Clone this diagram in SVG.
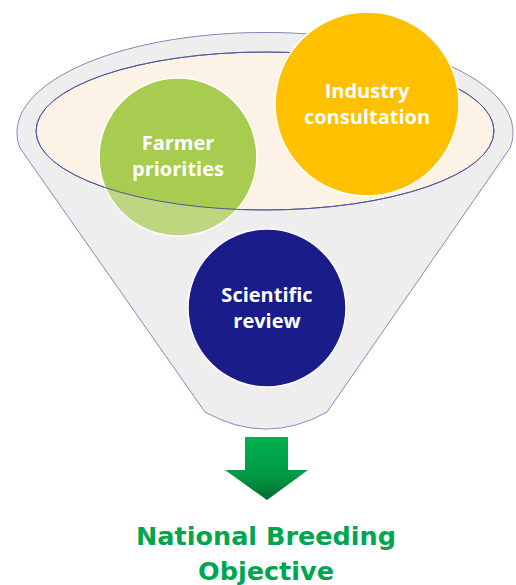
<svg xmlns="http://www.w3.org/2000/svg" width="516" height="585" viewBox="0 0 516 585">
<defs>
<style>
.lbl{font-family:"Open Sans","Noto Sans",sans-serif;font-weight:bold;font-size:20px;fill:#ffffff;text-anchor:middle}
.out{font-family:"DejaVu Sans",sans-serif;font-weight:bold;font-size:25.5px;fill:#00A64F;text-anchor:middle}
.circ{stroke:#ffffff;stroke-width:1.5}
</style>
<linearGradient id="ag" x1="0" y1="0" x2="0" y2="1">
<stop offset="0" stop-color="#00B050"/>
<stop offset="0.6" stop-color="#009A44"/>
<stop offset="1" stop-color="#006B2E"/>
</linearGradient>
</defs>
<g id="funnel">
<path d="M20,148 L205,412 Q266,446 327,412 L510,148 A248 100 0 1 0 20,148 Z" fill="#EEEEEE" stroke="#7474B4" stroke-width="1"/>
<ellipse cx="265" cy="131" rx="229" ry="79" fill="#FDF2E6" stroke="#55559A" stroke-width="1"/>
</g>
<g id="farmer">
<circle class="circ" cx="178" cy="157" r="79" fill="#A8CC4F"/>
<path d="M20,148 L205,412 Q266,446 327,412 L510,148 A248 100 0 1 0 20,148 Z M36,131 A229 79 0 1 0 494,131 A229 79 0 1 0 36,131 Z" fill="#EEEEEE" fill-opacity="0.3" fill-rule="evenodd"/>
<ellipse cx="265" cy="131" rx="229" ry="79" fill="none" stroke="#55559A" stroke-width="1"/>
<text class="lbl" x="178" y="150">Farmer</text>
<text class="lbl" x="178" y="176">priorities</text>
</g>
<g id="industry">
<circle class="circ" cx="367" cy="104" r="92" fill="#FFC000"/>
<text class="lbl" x="367" y="98">Industry</text>
<text class="lbl" x="367" y="124">consultation</text>
</g>
<g id="scientific">
<circle class="circ" cx="267" cy="308" r="79" fill="#1A1C8A"/>
<text class="lbl" x="267" y="302">Scientific</text>
<text class="lbl" x="267" y="328">review</text>
</g>
<g id="connectors">
<path d="M245,437 L288,437 L288,470 L308,470 L267,500 L225,470 L245,470 Z" fill="url(#ag)"/>
</g>
<g id="objective">
<text class="out" x="266" y="545">National Breeding</text>
<text class="out" x="266" y="580">Objective</text>
</g>
</svg>
